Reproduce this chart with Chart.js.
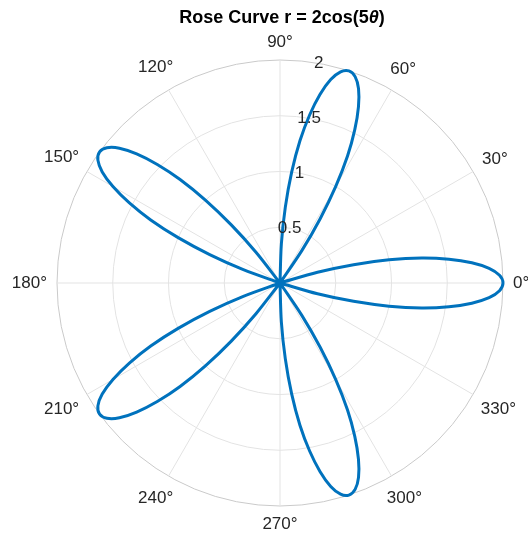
<!DOCTYPE html>
<html>
<head>
<meta charset="utf-8">
<title>Rose Curve</title>
<script src="https://cdn.jsdelivr.net/npm/chart.js@4.4.1/dist/chart.umd.min.js"></script>
<style>
      html, body { margin: 0; padding: 0; background: #ffffff; }
      #wrap { width: 528px; height: 537px; position: relative; }
</style>
</head>
<body>
<div id="wrap"><canvas id="rose_chart"></canvas></div>
<script>
const titleParts = ['Rose Curve r = 2cos(5', 'θ', ')'];
const angleLabels = ['0°', '30°', '60°', '90°', '120°', '150°', '180°', '210°', '240°', '270°', '300°', '330°'];
const angleLabelDegrees = [0, 30, 60, 90, 120, 150, 180, 210, 240, 270, 300, 330];
const tickValues = [0.5, 1, 1.5, 2];
const tickLabels = ['0.5', '1', '1.5', '2'];
const tickAngle = 80;

// petals of the rose, each one
const petalCenters = [0, 72, 144, 216, 288];
const petalOffsets = [-18, -16, -14, -12, -10, -8, -6, -4, -2, 0, 2, 4, 6, 8, 10, 12, 14, 16, 18];
const petalRadius = [0, 0.35, 0.68, 1.0, 1.29, 1.53, 1.73, 1.88, 1.97, 2, 1.97, 1.88, 1.73, 1.53, 1.29, 1.0, 0.68, 0.35, 0];
const stepDegrees = 2;

const labelFont = '17px "Liberation Sans", Arial, sans-serif';
const textColor = '#262626';

function buildRoseData()
{
      const count = 360 / stepDegrees;
      const labels = [];
      const values = [];

      // radar runs clockwise, so index i sits at -i*step degrees
      for (let i = 0; i < count; i++)
      {
            labels.push((360 - i * stepDegrees) % 360);
            values.push(0);
      }

      for (let p = 0; p < petalCenters.length; p++)
      {
            for (let k = 0; k < petalOffsets.length; k++)
            {
                  const deg = (petalCenters[p] + petalOffsets[k] + 360) % 360;
                  const idx = ((360 - deg) % 360) / stepDegrees;
                  values[idx] = petalRadius[k];
            }
      }

      return { labels, values };
}

const polarText = {
      id: 'polarText',
      afterDraw(chart)
      {
            const scale = chart.scales.r;
            const ctx = chart.ctx;
            const cx = scale.xCenter;
            const cy = scale.yCenter;
            const outer = scale.getDistanceFromCenterForValue(scale.max);

            ctx.save();
            ctx.font = labelFont;
            ctx.fillStyle = textColor;
            ctx.textAlign = 'center';
            ctx.textBaseline = 'middle';

            for (let i = 0; i < angleLabels.length; i++)
            {
                  const a = angleLabelDegrees[i] * Math.PI / 180;
                  const w = ctx.measureText(angleLabels[i]).width;
                  const d = outer + 10 + Math.abs(Math.cos(a)) * w / 2 + Math.abs(Math.sin(a)) * 8;
                  ctx.fillText(angleLabels[i], cx + Math.cos(a) * d, cy - Math.sin(a) * d);
            }

            const t = tickAngle * Math.PI / 180;
            for (let i = 0; i < tickValues.length; i++)
            {
                  const d = scale.getDistanceFromCenterForValue(tickValues[i]);
                  ctx.fillText(tickLabels[i], cx + Math.cos(t) * d, cy - Math.sin(t) * d);
            }

            // title, theta in italics
            const fonts = ['bold 18px "Liberation Sans", Arial, sans-serif',
                  'italic bold 18px "Liberation Sans", Arial, sans-serif',
                  'bold 18px "Liberation Sans", Arial, sans-serif'];
            let total = 0;
            const widths = [];
            for (let i = 0; i < titleParts.length; i++)
            {
                  ctx.font = fonts[i];
                  widths.push(ctx.measureText(titleParts[i]).width);
                  total += widths[i];
            }
            let x = cx + 2 - total / 2;
            ctx.textAlign = 'left';
            ctx.fillStyle = '#000000';
            for (let i = 0; i < titleParts.length; i++)
            {
                  ctx.font = fonts[i];
                  ctx.fillText(titleParts[i], x, 18);
                  x += widths[i];
            }
            ctx.restore();
      }
};

function drawRoseChart()
{
      const rose = buildRoseData();

      const config = {
            type: 'radar',
            data: {
                  labels: rose.labels,
                  datasets: [{
                        label: 'r = 2cos(5θ)',
                        data: rose.values,
                        borderColor: '#0072BD',
                        borderWidth: 3,
                        pointRadius: 0,
                        pointHoverRadius: 0,
                        fill: false,
                        tension: 0.3
                  }]
            },
            options: {
                  responsive: true,
                  maintainAspectRatio: false,
                  animation: false,
                  layout: {
                        padding: { left: 57, right: 25, top: 60, bottom: 31 }
                  },
                  elements: {
                        line: { borderJoinStyle: 'round' }
                  },
                  scales: {
                        r: {
                              min: 0,
                              max: 2,
                              startAngle: 90,
                              ticks: { display: false, stepSize: 0.5 },
                              pointLabels: { display: false },
                              grid: {
                                    circular: true,
                                    color: function (c)
                                    {
                                          return c.tick && c.tick.value === 2 ? '#cacaca' : '#e3e3e3';
                                    },
                                    lineWidth: 1
                              },
                              angleLines: {
                                    color: '#e3e3e3',
                                    lineWidth: function (c)
                                    {
                                          return c.index % 15 === 0 ? 1 : 0;
                                    }
                              }
                        }
                  },
                  plugins: {
                        legend: { display: false },
                        tooltip: { enabled: false },
                        title: { display: false }
                  }
            },
            plugins: [polarText]
      };

      new Chart(document.getElementById('rose_chart'), config);
}

drawRoseChart();
</script>
</body>
</html>
